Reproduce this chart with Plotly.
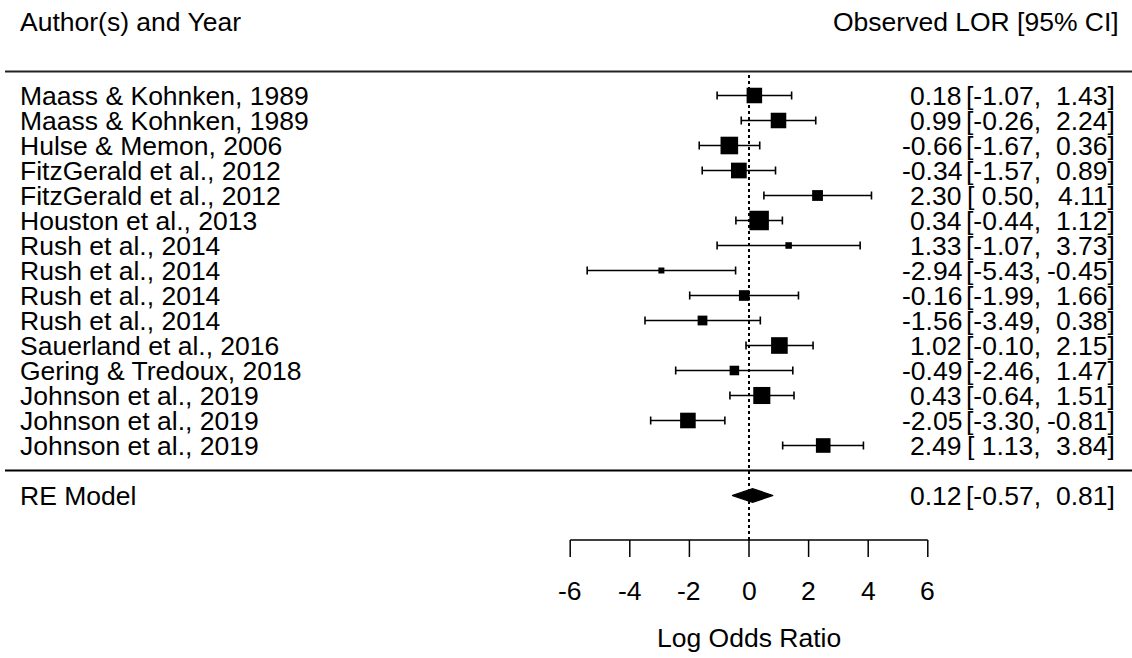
import plotly.graph_objects as go

# ---------------- data ----------------
authors = [
    "Maass & Kohnken, 1989", "Maass & Kohnken, 1989", "Hulse & Memon, 2006",
    "FitzGerald et al., 2012", "FitzGerald et al., 2012", "Houston et al., 2013",
    "Rush et al., 2014", "Rush et al., 2014", "Rush et al., 2014", "Rush et al., 2014",
    "Sauerland et al., 2016", "Gering & Tredoux, 2018", "Johnson et al., 2019",
    "Johnson et al., 2019", "Johnson et al., 2019",
]
est = [0.18, 0.99, -0.66, -0.34, 2.30, 0.34, 1.33, -2.94, -0.16, -1.56, 1.02, -0.49, 0.43, -2.05, 2.49]
ci_lower = [-1.07, -0.26, -1.67, -1.57, 0.50, -0.44, -1.07, -5.43, -1.99, -3.49, -0.10, -2.46, -0.64, -3.30, 1.13]
ci_upper = [1.43, 2.24, 0.36, 0.89, 4.11, 1.12, 3.73, -0.45, 1.66, 0.38, 2.15, 1.47, 1.51, -0.81, 3.84]
re_label = "RE Model"
re_est, re_lower, re_upper = 0.12, -0.57, 0.81
x_ticks = [-6, -4, -2, 0, 2, 4, 6]
header_left = "Author(s) and Year"
header_right = "Observed LOR [95% CI]"
x_title = "Log Odds Ratio"

# ---------------- layout helpers ----------------
W, H = 1132, 658
PX_PER_UNIT = 29.8
X0_PX = 749.0
ROW_PX = 25.0
TOP_ROW_PX = 95.5
k = len(authors)
rows = list(range(k, 0, -1))
re_row = -1
FONT = dict(family="Liberation Sans, Arial, sans-serif", size=26.5, color="black")


def xv(px):
    return (px - X0_PX) / PX_PER_UNIT


def yv(px):
    return k - (px - TOP_ROW_PX) / ROW_PX


# box sizes from random-effects weights (tau^2 solved from the pooled CI)
vi = [((u - l) / (2 * 1.96)) ** 2 for l, u in zip(ci_lower, ci_upper)]
se_re2 = ((re_upper - re_lower) / (2 * 1.96)) ** 2
lo, hi = 0.0, 50.0
for _ in range(200):
    mid = (lo + hi) / 2
    v = 1.0 / sum(1.0 / (x + mid) for x in vi)
    if v < se_re2:
        lo = mid
    else:
        hi = mid
tau2 = (lo + hi) / 2
wts = [1.0 / (x + tau2) for x in vi]
wmin, wmax = min(wts), max(wts)
box_sizes = [6 + (w - wmin) / (wmax - wmin) * 13.5 for w in wts]

fig = go.Figure()

# CI segments and caps
cap = 0.16
lx, ly = [], []
for l, u, r in zip(ci_lower, ci_upper, rows):
    lx += [l, u, None, l, l, None, u, u, None]
    ly += [r, r, None, r - cap, r + cap, None, r - cap, r + cap, None]
fig.add_trace(go.Scatter(x=lx, y=ly, mode="lines", line=dict(color="black", width=1.6),
                         hoverinfo="skip"))

# boxes
fig.add_trace(go.Scatter(x=est, y=rows, mode="markers",
                         marker=dict(symbol="square", size=box_sizes, color="black",
                                     opacity=1, line=dict(width=0))))

# diamond
h = 0.27
fig.add_trace(go.Scatter(
    x=[re_lower, re_est, re_upper, re_est, re_lower],
    y=[re_row, re_row + h, re_row, re_row - h, re_row],
    mode="lines", fill="toself", fillcolor="black",
    line=dict(color="black", width=1.2)))

shapes = []
# reference line
shapes.append(dict(type="line", x0=0, x1=0, y0=yv(540), y1=yv(73),
                   line=dict(color="black", width=2, dash="dot")))
# horizontal rules
shapes.append(dict(type="line", x0=xv(5), x1=xv(W), y0=yv(71.5), y1=yv(71.5),
                   line=dict(color="#222", width=2)))
shapes.append(dict(type="line", x0=xv(5), x1=xv(W), y0=yv(470.5), y1=yv(470.5),
                   line=dict(color="black", width=2)))
# x axis
ax_y = yv(540)
tick_y = yv(557)
shapes.append(dict(type="line", x0=x_ticks[0], x1=x_ticks[-1], y0=ax_y, y1=ax_y,
                   line=dict(color="black", width=1.5)))
for t in x_ticks:
    shapes.append(dict(type="line", x0=t, x1=t, y0=ax_y, y1=tick_y,
                       line=dict(color="black", width=1.5)))

ann = []


def txt(x, y, s, anchor):
    ann.append(dict(x=x, y=y, text=s, showarrow=False, xanchor=anchor,
                    yanchor="middle", font=FONT, borderpad=0))


def fmt(v):
    return f"{v:.2f}"


txt(xv(19), yv(21.5), header_left, "left")
txt(xv(1120), yv(21.5), header_right, "right")

X_EST = xv(963)
X_LOW = xv(1041.5)
X_UPP = xv(1116)


def ci_row(y, e, l, u):
    txt(X_EST, y, fmt(e), "right")
    low = fmt(l) if l < 0 else "\u00a0" + fmt(l)
    txt(X_LOW, y, "[" + low + ",", "right")
    txt(X_UPP, y, fmt(u) + "]", "right")


for a, e, l, u, r in zip(authors, est, ci_lower, ci_upper, rows):
    txt(xv(19), r, a, "left")
    ci_row(r, e, l, u)

txt(xv(19), re_row, re_label, "left")
ci_row(re_row, re_est, re_lower, re_upper)

for t in x_ticks:
    txt(t, yv(591), str(t), "center")
txt((x_ticks[0] + x_ticks[-1]) / 2, yv(637.5), x_title, "center")

fig.update_layout(
    width=W, height=H, margin=dict(l=0, r=0, t=0, b=0),
    paper_bgcolor="white", plot_bgcolor="white", showlegend=False,
    xaxis=dict(range=[xv(0), xv(W)], visible=False, fixedrange=True),
    yaxis=dict(range=[yv(H), yv(0)], visible=False, fixedrange=True),
    shapes=shapes, annotations=ann,
)

fig.write_html(
    "out.html",
    config={"displayModeBar": False},
    post_script="document.body.style.margin='0';document.body.style.overflow='hidden';",
)
